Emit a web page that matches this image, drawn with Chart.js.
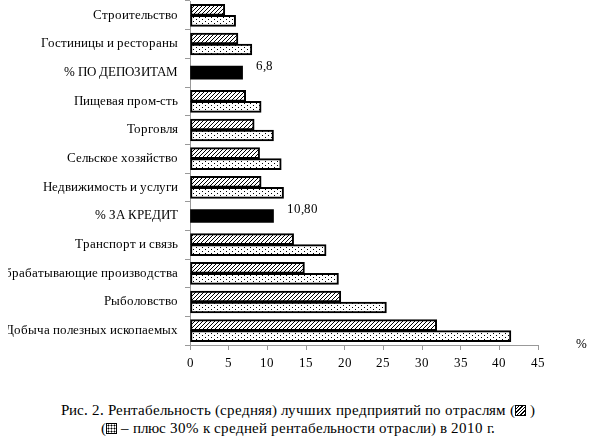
<!DOCTYPE html>
<html>
<head>
<meta charset="utf-8">
<script src="https://cdn.jsdelivr.net/npm/chart.js@4"></script>
<style>
  @font-face { font-family: 'RisSerif'; src: local('Liberation Serif'), local('LiberationSerif'), local('Times New Roman'); }
  body { margin: 0; background: #fff; font-family: 'RisSerif', 'Liberation Serif', serif; }
  #wrap { position: relative; width: 595px; height: 380px; }
  .ico { display: inline-block; width: 9px; height: 9px; border: 1.5px solid #000; vertical-align: -1px; }
  .hatch { background: repeating-linear-gradient(135deg, #fff 0 1.5px, #000 1.5px 2.5px); }
  .dots { background: radial-gradient(circle, #000 0.9px, #fff 1.1px) 0 0 / 3px 3px; }
</style>
</head>
<body>
<div id="wrap"><canvas id="chartRent"></canvas></div>
<div style="position:absolute; top:401px; left:0; width:595px; text-align:center; font-size:15px; line-height:18px; color:#000">Рис. 2. Рентабельность (средняя) лучших предприятий по отраслям (<span class="ico hatch"></span> )<br>(<span class="ico dots"></span> – плюс 30% к средней рентабельности отрасли) в 2010 г.</div>
<script>
const otrasli = ['Строительство', 'Гостиницы и рестораны', '% ПО ДЕПОЗИТАМ', 'Пищевая пром-сть', 'Торговля',
  'Сельское хозяйство', 'Недвижимость и услуги', '% ЗА КРЕДИТ', 'Транспорт и связь',
  'Обрабатывающие производства', 'Рыболовство', 'Добыча полезных ископаемых'];
const srednyaya = [4.5, 6.2, null, 7.2, 8.3, 9.0, 9.2, null, 13.4, 14.8, 19.5, 31.9];
const plus30 = [5.9, 8.0, null, 9.2, 10.8, 11.8, 12.1, null, 17.6, 19.2, 25.4, 41.5];
const stavki = [null, null, 6.8, null, null, null, null, 10.8, null, null, null, null];
const stavkiText = [null, null, '6,8', null, null, null, null, '10,80', null, null, null, null];
const xTicks = [0, 5, 10, 15, 20, 25, 30, 35, 40, 45];

const fuente = "'RisSerif', 'Liberation Serif', serif";
Chart.defaults.font.family = fuente;

function patronRayado() {
  const c = document.createElement('canvas');
  c.width = 4; c.height = 4;
  const g = c.getContext('2d');
  g.fillStyle = '#fff'; g.fillRect(0, 0, 4, 4);
  g.strokeStyle = '#000'; g.lineWidth = 1;
  g.beginPath();
  g.moveTo(0, 4); g.lineTo(4, 0);
  g.moveTo(-1, 1); g.lineTo(1, -1);
  g.moveTo(3, 5); g.lineTo(5, 3);
  g.stroke();
  return g.createPattern(c, 'repeat');
}

function patronPuntos() {
  const c = document.createElement('canvas');
  c.width = 6; c.height = 4;
  const g = c.getContext('2d');
  g.fillStyle = '#fff'; g.fillRect(0, 0, 6, 4);
  g.fillStyle = '#000';
  g.fillRect(1, 1, 1, 1);
  g.fillRect(4, 3, 1, 1);
  return g.createPattern(c, 'repeat');
}

const etiquetas = {
  id: 'etiquetas',
  afterDatasetsDraw(chart) {
    const ctx = chart.ctx;
    ctx.save();
    ctx.font = '13px ' + fuente;
    ctx.fillStyle = '#000';
    ctx.textBaseline = 'middle';
    chart.getDatasetMeta(2).data.forEach((el, i) => {
      if (stavkiText[i] == null) return;
      ctx.fillText(stavkiText[i], el.x + 13, el.y - 6);
    });
    const a = chart.chartArea;
    ctx.fillText('%', a.right + 38, a.bottom);
    ctx.restore();
  }
};

function dibujar() {
  const ctx = document.getElementById('chartRent').getContext('2d');
  new Chart(ctx, {
    type: 'bar',
    data: {
      labels: otrasli,
      datasets: [
        { label: 'Средняя', data: srednyaya, backgroundColor: patronRayado(), borderColor: '#000', borderWidth: 2, borderSkipped: false, barThickness: 11 },
        { label: 'Плюс 30%', data: plus30, backgroundColor: patronPuntos(), borderColor: '#000', borderWidth: 2, borderSkipped: false, barThickness: 11 },
        { label: 'Ставка', data: stavki, backgroundColor: '#000', borderColor: '#000', borderWidth: 0, barThickness: 13 }
      ]
    },
    options: {
      indexAxis: 'y',
      responsive: true,
      maintainAspectRatio: false,
      animation: false,
      skipNull: true,
      layout: { padding: { left: 8, right: 57, top: 1, bottom: 0 } },
      plugins: { legend: { display: false }, tooltip: { enabled: false } },
      scales: {
        y: {
          afterFit: s => { s.width = 182; s.paddingTop = 0; s.paddingBottom = 0; },
          border: { display: true, color: '#999', width: 1 },
          grid: { drawOnChartArea: false, drawTicks: true, tickLength: 5, color: '#999' },
          ticks: { color: '#000', padding: 7, font: { family: fuente, size: 13 } }
        },
        x: {
          min: 0, max: 45,
          afterFit: s => { s.height = 35; },
          afterBuildTicks: s => { s.ticks = xTicks.map(v => ({ value: v })); },
          border: { display: true, color: '#999', width: 1 },
          grid: { drawOnChartArea: false, drawTicks: true, tickLength: 5, color: '#999' },
          ticks: { color: '#000', padding: 6, font: { family: fuente, size: 13 } }
        }
      }
    }
  ,
    plugins: [etiquetas]
  });
}

dibujar();
</script>
</body>
</html>
